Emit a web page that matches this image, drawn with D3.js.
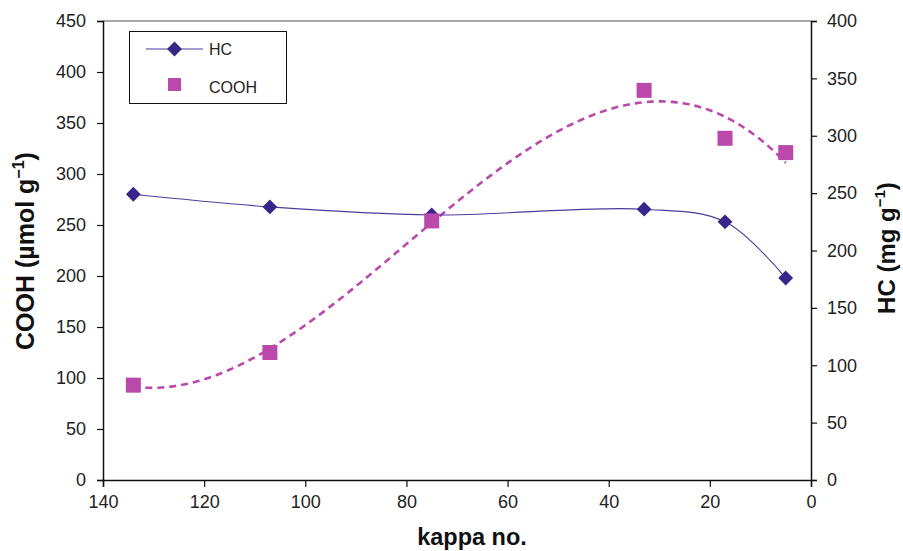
<!DOCTYPE html>
<html>
<head>
<meta charset="utf-8">
<script src="https://cdn.jsdelivr.net/npm/d3@7"></script>
<style>
  html, body { margin: 0; padding: 0; background: #fff; }
  svg { display: block; font-family: "Liberation Sans", Arial, Helvetica, sans-serif; }
</style>
</head>
<body>
<svg id="chart" width="903" height="551"></svg>
<script>
// kappa number of each sample
const kappa = [134, 107, 75, 33, 17, 5];
// hemicellulose content, mg g-1 (right axis)
const hcValues = [249, 238, 231, 236, 225, 176];
// carboxyl content, µmol g-1 (left axis)
const coohValues = [93, 125, 254, 382, 335, 321];

const xTicks = [140, 120, 100, 80, 60, 40, 20, 0];
const leftTicks = [0, 50, 100, 150, 200, 250, 300, 350, 400, 450];
const rightTicks = [0, 50, 100, 150, 200, 250, 300, 350, 400];

const HC_COLOR = "#39268a";
const HC_LINE = "#4d3c9e";
const COOH_COLOR = "#bb48ab";

const svg = d3.select("#chart");
const plot = { left: 103, right: 811, top: 21, bottom: 480 };

const x = d3.scaleLinear().domain([140, 0]).range([plot.left, plot.right]);
const yL = d3.scaleLinear().domain([0, 450]).range([plot.bottom, plot.top]);
const yR = d3.scaleLinear().domain([0, 400]).range([plot.bottom, plot.top]);

// top frame edge
svg.append("line")
  .attr("x1", plot.left).attr("x2", plot.right)
  .attr("y1", plot.top).attr("y2", plot.top)
  .attr("stroke", "#8a8a8a").attr("stroke-width", 1.5);

function styleAxis(g) {
  g.selectAll("path").attr("stroke", "#111").attr("stroke-width", 1.5);
  g.selectAll("line").attr("stroke", "#111").attr("stroke-width", 1.2);
  g.selectAll("text").attr("fill", "#222").style("font-size", "18px")
    .style("font-family", "'Liberation Sans', Arial, sans-serif");
}

svg.append("g")
  .attr("transform", `translate(0,${plot.bottom})`)
  .call(d3.axisBottom(x).tickValues(xTicks).tickSize(7).tickSizeOuter(7).tickPadding(8).tickFormat(d3.format("d")))
  .call(styleAxis);

svg.append("g")
  .attr("transform", `translate(${plot.left},0)`)
  .call(d3.axisLeft(yL).tickValues(leftTicks).tickSize(6).tickSizeOuter(6).tickPadding(11).tickFormat(d3.format("d")))
  .call(styleAxis);

svg.append("g")
  .attr("transform", `translate(${plot.right},0)`)
  .call(d3.axisRight(yR).tickValues(rightTicks).tickSize(6).tickSizeOuter(6).tickPadding(10).tickFormat(d3.format("d")))
  .call(styleAxis);

// third-order least-squares trend through the COOH points
function polyFit(xs, ys, order) {
  const n = order + 1;
  const A = Array.from({ length: n }, () => new Array(n + 1).fill(0));
  for (let r = 0; r < n; r++) {
    for (let c = 0; c < n; c++) A[r][c] = d3.sum(xs, v => Math.pow(v, r + c));
    A[r][n] = d3.sum(xs, (v, i) => ys[i] * Math.pow(v, r));
  }
  for (let i = 0; i < n; i++) {
    let p = i;
    for (let k = i + 1; k < n; k++) if (Math.abs(A[k][i]) > Math.abs(A[p][i])) p = k;
    [A[i], A[p]] = [A[p], A[i]];
    for (let k = i + 1; k < n; k++) {
      const f = A[k][i] / A[i][i];
      for (let c = i; c <= n; c++) A[k][c] -= f * A[i][c];
    }
  }
  const coef = new Array(n).fill(0);
  for (let i = n - 1; i >= 0; i--) {
    let s = A[i][n];
    for (let c = i + 1; c < n; c++) s -= A[i][c] * coef[c];
    coef[i] = s / A[i][i];
  }
  return v => coef.reduce((acc, cf, i) => acc + cf * Math.pow(v, i), 0);
}
const trend = polyFit(kappa, coohValues, 3);
const kMin = d3.min(kappa), kMax = d3.max(kappa);
const trendPts = d3.range(kMax, kMin - 0.001, -0.5).map(k => [k, trend(k)]);

svg.append("path")
  .datum(trendPts)
  .attr("fill", "none")
  .attr("stroke", COOH_COLOR)
  .attr("stroke-width", 2.6)
  .attr("stroke-dasharray", "7,5")
  .attr("d", d3.line().x(d => x(d[0])).y(d => yL(d[1])));

// HC smoothed line
const hcData = kappa.map((k, i) => [k, hcValues[i]]);
svg.append("path")
  .datum(hcData)
  .attr("fill", "none")
  .attr("stroke", HC_LINE)
  .attr("stroke-width", 1.1)
  .attr("d", d3.line().x(d => x(d[0])).y(d => yR(d[1])).curve(d3.curveCatmullRom.alpha(0.5)));

const diamond = d3.symbol().type(d3.symbolSquare).size(110)();

svg.append("g").selectAll("path")
  .data(hcData)
  .join("path")
  .attr("d", diamond)
  .attr("transform", d => `translate(${x(d[0])},${yR(d[1])}) rotate(45)`)
  .attr("fill", HC_COLOR);

const coohData = kappa.map((k, i) => [k, coohValues[i]]);
svg.append("g").selectAll("rect")
  .data(coohData)
  .join("rect")
  .attr("x", d => x(d[0]) - 7.5)
  .attr("y", d => yL(d[1]) - 7.5)
  .attr("width", 15).attr("height", 15)
  .attr("fill", COOH_COLOR);

// legend
const lg = svg.append("g");
lg.append("rect")
  .attr("x", 129.5).attr("y", 31.5).attr("width", 157).attr("height", 72)
  .attr("fill", "#fff").attr("stroke", "#111").attr("stroke-width", 1);
lg.append("line")
  .attr("x1", 146).attr("x2", 203).attr("y1", 49).attr("y2", 49)
  .attr("stroke", HC_LINE).attr("stroke-width", 1.1);
lg.append("path").attr("d", diamond)
  .attr("transform", "translate(174.5,49) rotate(45)").attr("fill", HC_COLOR);
lg.append("rect")
  .attr("x", 168).attr("y", 78).attr("width", 13).attr("height", 13)
  .attr("fill", COOH_COLOR);
lg.append("text").attr("x", 209).attr("y", 55).text("HC")
  .attr("fill", "#222").style("font-size", "16px");
lg.append("text").attr("x", 209).attr("y", 93).text("COOH")
  .attr("fill", "#222").style("font-size", "16px");

// axis titles
svg.append("text")
  .attr("transform", "translate(34,251) rotate(-90)")
  .attr("text-anchor", "middle")
  .style("font-size", "25px").style("font-weight", "bold").attr("fill", "#111")
  .html('COOH (µmol g<tspan dy="-10" font-size="16px">−1</tspan><tspan dy="10">)</tspan>');

svg.append("text")
  .attr("transform", "translate(895,248) rotate(-90)")
  .attr("text-anchor", "middle")
  .style("font-size", "24px").style("font-weight", "bold").attr("fill", "#111")
  .html('HC (mg g<tspan dy="-10" font-size="15px">−1</tspan><tspan dy="10">)</tspan>');

svg.append("text")
  .attr("x", 472).attr("y", 545)
  .attr("text-anchor", "middle")
  .style("font-size", "23.5px").style("font-weight", "bold").attr("fill", "#111")
  .text("kappa no.");
</script>
</body>
</html>
